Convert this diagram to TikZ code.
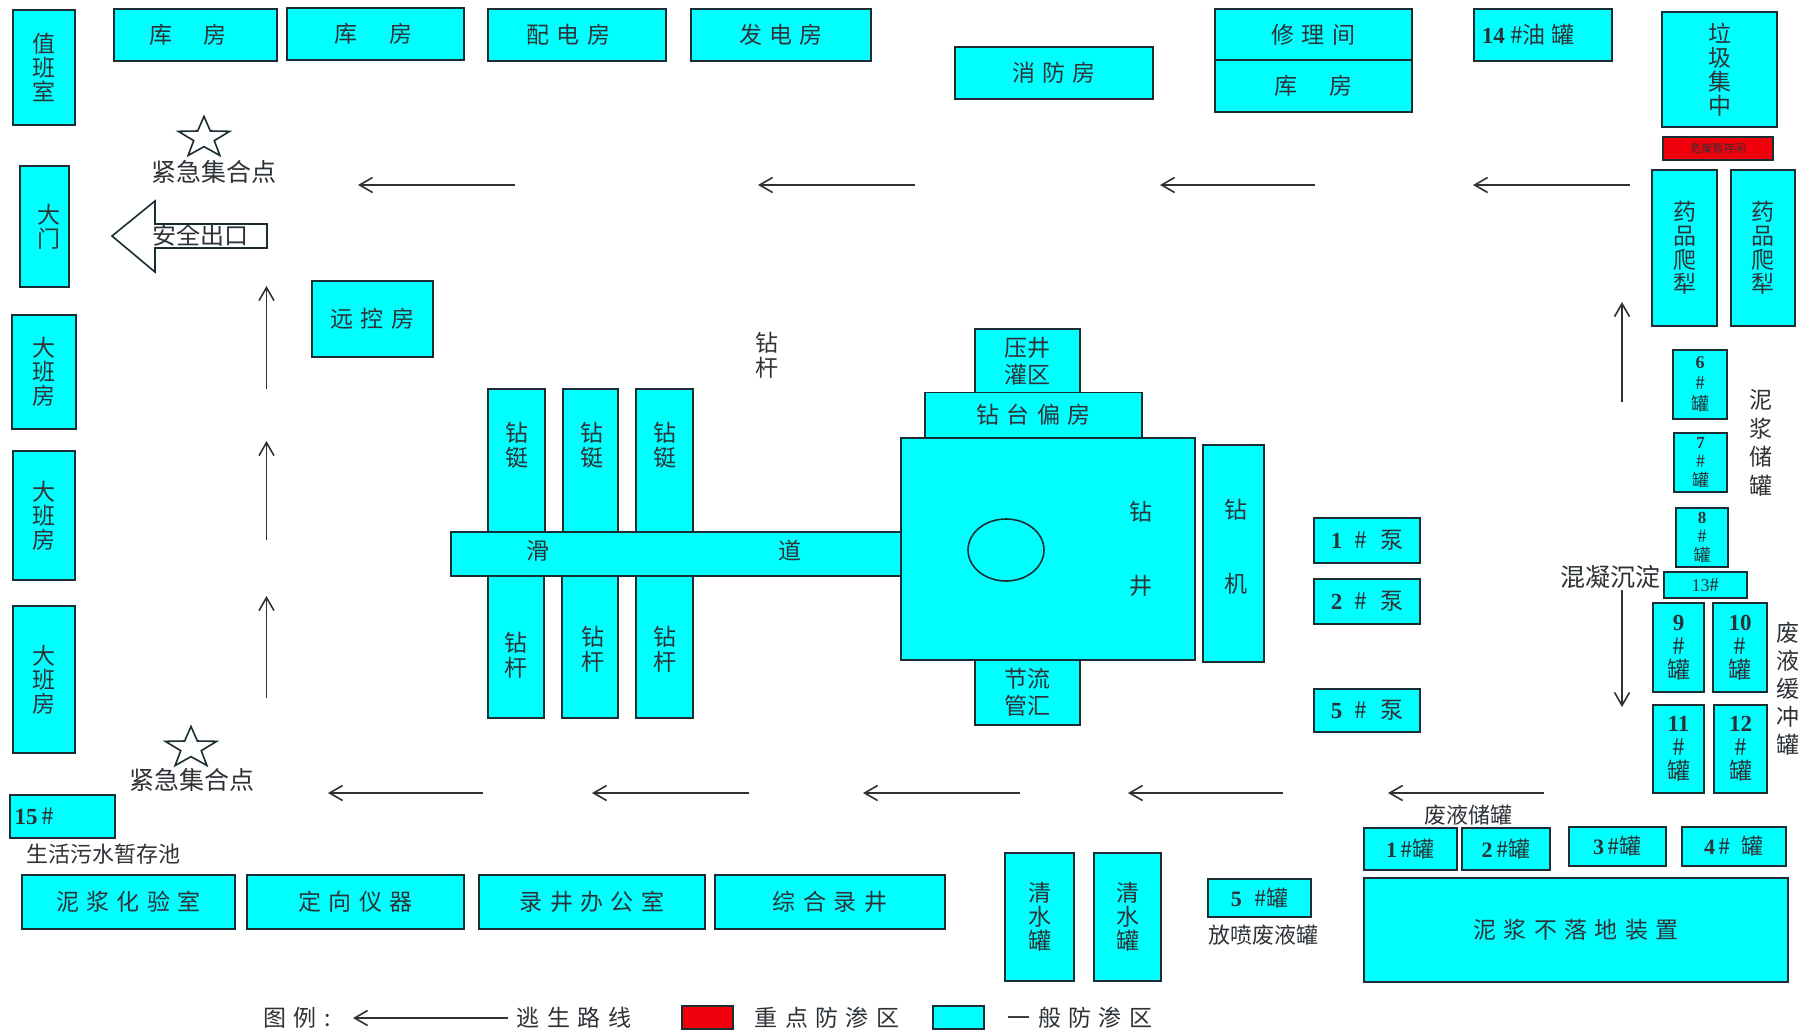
\documentclass[tikz,border=0pt]{standalone}
\usepackage{fontspec}
\setmainfont{Noto Sans CJK SC}
\newfontfamily\cjkwide[LetterSpace=32]{Noto Sans CJK SC}
\newfontfamily\numfont{Liberation Serif}
\usetikzlibrary{arrows.meta,shapes.geometric}
\definecolor{boxcyan}{RGB}{0,255,255}
\definecolor{boxred}{RGB}{240,0,10}
\definecolor{edgeink}{RGB}{25,45,50}
\definecolor{textink}{RGB}{45,50,55}
\newcommand{\nm}[1]{{\numfont\bfseries #1}}
\tikzset{
    room/.style 2 args={draw=edgeink,fill=boxcyan,line width=1.7pt,minimum width=#1pt,minimum height=#2pt,inner sep=0pt,align=center,text=textink,font=\fontsize{23}{24}\selectfont},
    wide/.style={font=\fontsize{23}{27}\selectfont\cjkwide},
    tank/.style={font=\fontsize{22}{24}\selectfont},
    tag/.style={inner sep=0pt,align=center,text=textink,font=\fontsize{23}{25}\selectfont},
    bigtag/.style={tag,font=\fontsize{25}{27}\selectfont},
    smalltag/.style={tag,font=\fontsize{22}{24}\selectfont},
    route/.style={draw=textink,line width=1.6pt,-{Straight Barb[length=13pt,width=15pt,line width=1.6pt]}},
    starmark/.style={draw=edgeink,line width=1.6pt,star,star points=5,star point ratio=2.5,minimum size=#1pt,inner sep=0pt,yscale=.8,transform shape}
}
\begin{document}
\begin{tikzpicture}[x=1pt,y=-1pt]
    \useasboundingbox (0,0) rectangle (1809,1031);
    \node[room={62}{115}] (zhiban) at (44,67.5) {值\\班\\室};
    \node[room={163}{52},wide] (kufangA) at (195.5,35) {库\hspace{32pt}房\hspace*{15pt}};
    \node[room={177}{52},wide] (kufangB) at (375.5,34) {库\hspace{32pt}房\hspace*{4pt}};
    \node[room={178}{52},wide] (peidian) at (577,35) {配电房\hspace*{17pt}};
    \node[room={180}{52},wide] (fadian) at (781,35) {发电房};
    \node[room={198}{52},wide] (xiaofang) at (1054,73) {消防房};
    \node[room={197}{51},wide] (xiuli) at (1313.5,34.5) {修理间};
    \node[room={197}{52},wide] (kufangC) at (1313.5,86) {库\hspace{32pt}房};
    \node[room={138}{52}] (youguan) at (1543,35) {\nm{14} \#油 罐\hspace*{30pt}};
    \node[room={115}{115}] (laji) at (1719.5,69.5) {垃\\圾\\集\\中};
    \node[room={110}{23},fill=boxred,font=\fontsize{11}{12}\selectfont] (weifei) at (1718,148.5) {危废暂存间};
    \node[room={65}{156}] (yaopinA) at (1684.5,248) {药\\品\\爬\\犁};
    \node[room={64}{156}] (yaopinB) at (1763,248) {药\\品\\爬\\犁};

    \node[room={54}{69},font=\fontsize{18}{21}\selectfont] (guan6) at (1700,384.5) {\nm{6}\\\#\\罐};
    \node[room={53}{59},font=\fontsize{17}{19}\selectfont] (guan7) at (1700.5,462.5) {\nm{7}\\\#\\罐};
    \node[room={52}{59},font=\fontsize{17}{19}\selectfont] (guan8) at (1702,537.5) {\nm{8}\\\#\\罐};
    \node[room={83}{26},font=\fontsize{18}{20}\selectfont] (guan13) at (1705.5,585) {{\numfont 13}\#};
    \node[room={51}{89}] (guan9) at (1678.5,647.5) {\nm{9}\\\#\\罐};
    \node[room={54}{89}] (guan10) at (1740,647.5) {\nm{10}\\\#\\罐};
    \node[room={51}{88}] (guan11) at (1678.5,749) {\nm{11}\\\#\\罐};
    \node[room={53}{88}] (guan12) at (1740.5,749) {\nm{12}\\\#\\罐};
    \node[tag,font=\fontsize{23}{28.5}\selectfont] (nijiangchu) at (1761,443) {泥\\浆\\储\\罐};
    \node[tag,font=\fontsize{23}{28}\selectfont] (feiyehuan) at (1788,689) {废\\液\\缓\\冲\\罐};
    \node[bigtag] (hunning) at (1610,577) {混凝沉淀};

    \node[room={49}{121}] (damen) at (44.5,226.5) {\hspace*{8pt}大\\\hspace*{8pt}门};
    \node[room={64}{114}] (dabanA) at (44,372) {大\\班\\房};
    \node[room={62}{129}] (dabanB) at (44,515.5) {大\\班\\房};
    \node[room={62}{147}] (dabanC) at (44,679.5) {大\\班\\房};
    \node[room={121}{76},wide] (yuankong) at (372.5,319) {远控房};

    \node[starmark=54] (jihexingA) at (204,138) {};
    \node[bigtag] (jiheA) at (214,172) {紧急集合点};
    \node[starmark=54] (jihexingB) at (191,748) {};
    \node[bigtag] (jiheB) at (192,780) {紧急集合点};
    \draw[draw=edgeink,line width=1.6pt] (112,236) -- (155,201) -- (155,224) -- (267,224) -- (267,248) -- (155,248) -- (155,272) -- cycle;
    \node[tag,font=\fontsize{24}{26}\selectfont] (chukou) at (200,235) {安全出口};

    \node[room={105}{43}] (wushui) at (62.5,816.5) {\nm{15}\,\#\hspace*{56pt}};
    \node[smalltag] (wushuitag) at (103,854) {生活污水暂存池};
    \node[room={213}{54},wide] (huayan) at (128.5,902) {泥浆化验室};
    \node[room={217}{54},wide] (dingxiang) at (355.5,902) {定向仪器};
    \node[room={226}{54},wide] (lujingban) at (592,902) {录井办公室};
    \node[room={230}{54},wide] (zonghe) at (830,902) {综合录井};
    \node[room={69}{128}] (qingshuiA) at (1039.5,917) {清\\水\\罐};
    \node[room={67}{128}] (qingshuiB) at (1127.5,917) {清\\水\\罐};
    \node[room={103}{38},tank] (guanF) at (1259.5,898) {\nm{5}\,\, \#罐};
    \node[smalltag] (fangpen) at (1263,935) {放喷废液罐};
    \node[smalltag] (feiyechu) at (1468,815) {废液储罐};
    \node[room={93}{42},tank] (guanA) at (1410.5,849) {\nm{1}\,\#罐};
    \node[room={88}{42},tank] (guanB) at (1506,849) {\nm{2}\,\#罐};
    \node[room={97}{39},tank] (guanC) at (1617.5,846.5) {\nm{3}\,\#罐};
    \node[room={104}{39},tank] (guanD) at (1734,846.5) {\nm{4}\,\#\,\,\,罐};
    \node[room={424}{104},wide] (buluodi) at (1576,930) {泥浆不落地装置};

    \node[room={106}{45},wide] (bengA) at (1367,540.5) {\nm{1} \# 泵};
    \node[room={106}{45},wide] (bengB) at (1367,601.5) {\nm{2} \# 泵};
    \node[room={106}{43},wide] (bengE) at (1367,710.5) {\nm{5} \# 泵};

    \node[room={57}{143}] (tingA) at (516.5,460.5) {};
    \node[room={55}{143}] (tingB) at (590.5,460.5) {};
    \node[room={57}{143}] (tingC) at (664.5,460.5) {};
    \node[room={56}{142}] (ganA) at (516,647) {};
    \node[room={56}{142}] (ganB) at (590,647) {};
    \node[room={57}{142}] (ganC) at (664.5,647) {};
    \node[room={450}{44}] (huadao) at (676,554) {};
    \node[room={105}{64},font=\fontsize{23}{27}\selectfont] (yajing) at (1027.5,361) {压井\\灌区};
    \node[room={217}{45},wide] (piantai) at (1033.5,415) {钻台偏房};
    \node[room={105}{65},font=\fontsize{23}{27}\selectfont] (jieliu) at (1027.5,692.5) {节流\\管汇};
    \node[room={294}{222}] (zuanjing) at (1048,549) {};
    \node[room={61}{217}] (zuanji) at (1233.5,553.5) {};
    \draw[draw=edgeink,line width=1.6pt] (1006,550) circle (38pt and 31pt);

    \node[tag] (tingAt) at (517,445) {钻\\铤};
    \node[tag] (tingBt) at (592,445) {钻\\铤};
    \node[tag] (tingCt) at (665,445) {钻\\铤};
    \node[tag] (ganAt) at (516,655) {钻\\杆};
    \node[tag] (ganBt) at (593,649) {钻\\杆};
    \node[tag] (ganCt) at (665,649) {钻\\杆};
    \node[tag] (zuangan) at (767,355) {钻\\杆};
    \node[tag] (huat) at (538,551) {滑};
    \node[tag] (daot) at (790,551) {道};
    \node[tag] (zuant) at (1141,512) {钻};
    \node[tag] (jingt) at (1141,586) {井};
    \node[tag] (zuanjit) at (1236,510) {钻};
    \node[tag] (jit) at (1236,584) {机};

    \coordinate (topAs) at (1630,185); \coordinate (topAe) at (1473,185);
    \coordinate (topBs) at (1315,185); \coordinate (topBe) at (1160,185);
    \coordinate (topCs) at (915,185); \coordinate (topCe) at (758,185);
    \coordinate (topDs) at (515,185); \coordinate (topDe) at (358,185);
    \coordinate (lowAs) at (1544,793); \coordinate (lowAe) at (1388,793);
    \coordinate (lowBs) at (1283,793); \coordinate (lowBe) at (1128,793);
    \coordinate (lowCs) at (1020,793); \coordinate (lowCe) at (863,793);
    \coordinate (lowDs) at (749,793); \coordinate (lowDe) at (592,793);
    \coordinate (lowEs) at (483,793); \coordinate (lowEe) at (328,793);
    \coordinate (leftAs) at (266.5,389); \coordinate (leftAe) at (266.5,286);
    \coordinate (leftBs) at (266.5,540); \coordinate (leftBe) at (266.5,441);
    \coordinate (leftCs) at (266.5,698); \coordinate (leftCe) at (266.5,596);
    \coordinate (rightAs) at (1622,402); \coordinate (rightAe) at (1622,302);
    \coordinate (rightBs) at (1622,590); \coordinate (rightBe) at (1622,707);
    \coordinate (keys) at (508,1018); \coordinate (keye) at (353,1018);
    \draw[route] (topAs) -- (topAe);
    \draw[route] (topBs) -- (topBe);
    \draw[route] (topCs) -- (topCe);
    \draw[route] (topDs) -- (topDe);
    \draw[route] (lowAs) -- (lowAe);
    \draw[route] (lowBs) -- (lowBe);
    \draw[route] (lowCs) -- (lowCe);
    \draw[route] (lowDs) -- (lowDe);
    \draw[route] (lowEs) -- (lowEe);
    \draw[route] (leftAs) -- (leftAe);
    \draw[route] (leftBs) -- (leftBe);
    \draw[route] (leftCs) -- (leftCe);
    \draw[route] (rightAs) -- (rightAe);
    \draw[route] (rightBs) -- (rightBe);
    \draw[route] (keys) -- (keye);

    \node[tag,wide] (tuli) at (297,1018) {图例:};
    \node[tag,wide] (taosheng) at (574,1018) {逃生路线};
    \node[room={51}{23},fill=boxred] (hongkuai) at (707.5,1017.5) {};
    \node[tag,wide] (zhongdian) at (827,1018) {重点防渗区};
    \node[room={51}{23}] (qingkuai) at (958.5,1017.5) {};
    \node[tag,wide] (yiban) at (1080,1018) {一般防渗区};
\end{tikzpicture}
\end{document}
